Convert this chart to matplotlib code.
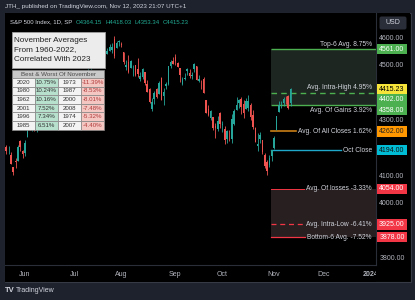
import numpy as np
import matplotlib
matplotlib.use('Agg')
import matplotlib.pyplot as plt
from matplotlib.patches import Rectangle, FancyBboxPatch
from matplotlib.transforms import blended_transform_factory, offset_copy

plt.rcParams['font.family'] = ['Liberation Sans', 'DejaVu Sans']

# S&P 500 daily bars, 19 May - 10 Nov 2023
dates = ['05-19', '05-22', '05-23', '05-24', '05-25', '05-26', '05-30', '05-31',
         '06-01', '06-02', '06-05', '06-06', '06-07', '06-08', '06-09', '06-12', '06-13', '06-14',
         '06-15', '06-16', '06-20', '06-21', '06-22', '06-23', '06-26', '06-27', '06-28', '06-29', '06-30',
         '07-03', '07-05', '07-06', '07-07', '07-10', '07-11', '07-12', '07-13', '07-14', '07-17',
         '07-18', '07-19', '07-20', '07-21', '07-24', '07-25', '07-26', '07-27', '07-28', '07-31',
         '08-01', '08-02', '08-03', '08-04', '08-07', '08-08', '08-09', '08-10', '08-11', '08-14',
         '08-15', '08-16', '08-17', '08-18', '08-21', '08-22', '08-23', '08-24', '08-25', '08-28',
         '08-29', '08-30', '08-31',
         '09-01', '09-05', '09-06', '09-07', '09-08', '09-11', '09-12', '09-13', '09-14', '09-15',
         '09-18', '09-19', '09-20', '09-21', '09-22', '09-25', '09-26', '09-27', '09-28', '09-29',
         '10-02', '10-03', '10-04', '10-05', '10-06', '10-09', '10-10', '10-11', '10-12', '10-13',
         '10-16', '10-17', '10-18', '10-19', '10-20', '10-23', '10-24', '10-25', '10-26', '10-27',
         '10-30', '10-31',
         '11-01', '11-02', '11-03', '11-06', '11-07', '11-08', '11-09', '11-10']

opens = [4204.15, 4190.78, 4176.80, 4132.96, 4155.71, 4156.16, 4226.71, 4190.74,
         4183.03, 4241.01, 4282.99, 4271.34, 4285.47, 4268.69, 4304.88, 4308.32, 4352.61, 4366.29,
         4365.33, 4440.95, 4396.11, 4380.01, 4355.40, 4354.17, 4344.84, 4337.36, 4367.48, 4374.94, 4422.44,
         4450.48, 4442.04, 4422.62, 4404.54, 4394.23, 4415.55, 4467.69, 4491.50, 4514.61, 4508.86,
         4521.78, 4563.87, 4554.38, 4550.16, 4543.39, 4555.19, 4558.96, 4598.26, 4565.75, 4584.82,
         4578.83, 4550.93, 4494.27, 4513.96, 4491.58, 4498.03, 4501.57, 4487.16, 4450.69, 4458.13,
         4478.87, 4433.79, 4416.32, 4344.88, 4380.28, 4415.33, 4396.44, 4455.16, 4389.38, 4426.03,
         4432.75, 4500.34, 4517.01,
         4530.60, 4510.06, 4490.35, 4434.55, 4451.30, 4480.98, 4473.27, 4462.65, 4487.78, 4497.98,
         4445.13, 4445.41, 4452.81, 4374.36, 4341.74, 4310.62, 4312.88, 4282.63, 4269.65, 4328.18,
         4284.52, 4269.75, 4233.83, 4259.31, 4234.79, 4289.02, 4339.75, 4366.59, 4380.94, 4360.49,
         4342.37, 4345.23, 4357.35, 4321.36, 4273.85, 4210.40, 4235.79, 4232.42, 4175.99, 4152.93,
         4139.39, 4171.33,
         4201.27, 4268.26, 4334.23, 4364.27, 4366.21, 4384.37, 4391.41, 4364.15]

highs = [4212.91, 4209.22, 4185.68, 4132.96, 4165.74, 4212.87, 4231.10, 4195.44,
         4232.43, 4290.67, 4299.28, 4288.33, 4299.19, 4298.01, 4322.62, 4340.13, 4375.37, 4391.82,
         4439.20, 4448.47, 4403.39, 4386.22, 4382.25, 4366.55, 4362.06, 4384.42, 4390.35, 4398.39, 4458.48,
         4456.46, 4454.06, 4422.62, 4440.39, 4412.60, 4443.64, 4488.34, 4517.38, 4527.76, 4532.85,
         4562.30, 4578.43, 4564.74, 4555.00, 4563.41, 4580.62, 4582.47, 4607.07, 4590.16, 4594.22,
         4584.62, 4550.93, 4519.49, 4540.34, 4519.84, 4503.31, 4502.44, 4527.37, 4476.23, 4490.33,
         4478.87, 4449.95, 4421.17, 4381.82, 4407.55, 4418.59, 4443.18, 4458.30, 4418.46, 4439.56,
         4500.14, 4521.65, 4532.26,
         4541.25, 4514.29, 4490.35, 4457.81, 4473.53, 4490.77, 4487.11, 4479.39, 4511.99, 4497.98,
         4466.36, 4449.85, 4461.03, 4375.70, 4357.40, 4338.51, 4313.01, 4292.07, 4317.27, 4333.15,
         4300.58, 4281.15, 4268.50, 4267.13, 4324.10, 4341.73, 4385.46, 4378.64, 4385.85, 4377.10,
         4383.33, 4393.57, 4364.20, 4339.54, 4276.56, 4255.84, 4259.38, 4232.42, 4183.60, 4156.70,
         4177.47, 4195.55,
         4245.64, 4319.72, 4373.62, 4372.21, 4386.26, 4391.20, 4393.40, 4418.03]

lows = [4180.20, 4179.68, 4142.54, 4103.98, 4129.73, 4156.16, 4192.18, 4166.15,
        4171.64, 4241.01, 4266.82, 4263.09, 4263.96, 4261.07, 4291.70, 4304.37, 4337.66, 4337.85,
        4362.60, 4407.44, 4386.72, 4360.14, 4351.82, 4341.34, 4328.08, 4335.00, 4360.22, 4371.97, 4422.44,
        4442.29, 4436.61, 4385.05, 4397.40, 4389.92, 4408.46, 4463.23, 4489.36, 4499.56, 4504.90,
        4514.59, 4557.48, 4527.56, 4535.79, 4541.29, 4552.42, 4547.58, 4528.56, 4564.01, 4573.14,
        4567.53, 4505.75, 4485.54, 4474.55, 4491.15, 4464.39, 4461.33, 4457.92, 4443.98, 4453.44,
        4432.19, 4403.55, 4364.83, 4335.31, 4360.30, 4382.77, 4396.44, 4375.55, 4356.29, 4414.98,
        4431.68, 4493.59, 4507.39,
        4501.35, 4496.01, 4442.38, 4430.46, 4448.38, 4467.89, 4456.83, 4453.52, 4478.69, 4447.21,
        4442.11, 4416.61, 4401.38, 4329.17, 4316.49, 4302.70, 4265.98, 4238.63, 4264.38, 4274.86,
        4260.21, 4216.45, 4220.48, 4225.91, 4219.55, 4283.79, 4339.64, 4345.34, 4325.43, 4311.97,
        4342.37, 4337.54, 4303.84, 4269.69, 4223.03, 4189.22, 4219.43, 4181.42, 4127.90, 4103.78,
        4132.94, 4153.12,
        4197.74, 4268.26, 4334.23, 4347.53, 4355.41, 4359.76, 4343.94, 4353.34]

closes = [4191.98, 4192.63, 4145.58, 4115.24, 4151.28, 4205.45, 4205.52, 4179.83,
          4221.02, 4282.37, 4273.79, 4283.85, 4267.52, 4293.93, 4298.86, 4338.93, 4369.01, 4372.59,
          4425.84, 4409.59, 4388.71, 4365.69, 4381.89, 4348.33, 4328.82, 4378.41, 4376.86, 4396.44, 4450.38,
          4455.59, 4446.82, 4411.59, 4398.95, 4409.53, 4439.26, 4472.16, 4510.04, 4505.42, 4522.79,
          4554.98, 4565.72, 4534.87, 4536.34, 4554.64, 4567.46, 4566.75, 4537.41, 4582.23, 4588.96,
          4576.73, 4513.39, 4501.89, 4478.03, 4518.44, 4499.38, 4467.71, 4468.83, 4464.05, 4489.72,
          4437.86, 4404.33, 4370.36, 4369.71, 4399.77, 4387.55, 4436.01, 4376.31, 4405.71, 4433.31,
          4497.63, 4514.87, 4507.66,
          4515.77, 4496.83, 4465.48, 4451.14, 4457.49, 4487.46, 4461.90, 4467.44, 4505.10, 4450.32,
          4453.53, 4443.95, 4402.20, 4330.00, 4320.06, 4337.44, 4273.53, 4274.51, 4299.70, 4288.05,
          4288.39, 4229.45, 4263.75, 4258.19, 4308.50, 4335.66, 4358.24, 4376.95, 4349.61, 4327.78,
          4373.63, 4373.20, 4314.60, 4278.00, 4224.16, 4217.04, 4247.68, 4186.77, 4137.23, 4117.37,
          4166.82, 4193.80,
          4237.86, 4317.78, 4358.34, 4365.98, 4378.38, 4382.78, 4347.35, 4415.23]

# November projection levels from the October close
oct_close = 4194.00
level_names = ['Top-6 Avg. 8.75%', 'Avg. Intra-High 4.95%', 'Avg. Of Gains 3.92%',
               'Avg. Of All Closes 1.62%', 'Oct Close', 'Avg. Of losses -3.33%',
               'Avg. Intra-Low -6.41%', 'Bottom-6 Avg. -7.52%']
level_values = [4561.00, 4402.00, 4358.00, 4262.00, 4194.00, 4054.00, 3925.00, 3878.00]
last_price = 4415.23

# table
title_lines = ['November Averages', 'From 1960-2022,', 'Correlated With 2023']
best_years = [2020, 1980, 1962, 2001, 1996, 1985]
best_pct = [10.75, 10.24, 10.16, 7.52, 7.34, 6.51]
worst_years = [1973, 1987, 2000, 2008, 1974, 2007]
worst_pct = [-11.39, -8.53, -8.01, -7.48, -5.32, -4.40]

month_labels = ['Jun', 'Jul', 'Aug', 'Sep', 'Oct', 'Nov']
month_starts = ['06-01', '07-03', '08-01', '09-01', '10-02', '11-01']
future_labels = ['Dec', '2024']
future_offsets = [14, 34]  # trading days after the last bar

UP, DN = '#26a69a', '#ef5350'
GRN, RED, ORG, CYN = '#4caf50', '#f23645', '#c97f16', '#1fa8c9'
TXT = '#d1d4dc'
AXT = '#b2b5be'

W, H = 415, 300
fig = plt.figure(figsize=(W / 100, H / 100), dpi=100)
fig.patch.set_facecolor('#1e222d')


def fb(x0, y0, x1, y1):
    return [x0 / W, 1 - y1 / H, (x1 - x0) / W, (y1 - y0) / H]


# black chart panel
fig.patches.append(Rectangle((4.5 / W, 1 - 282 / H), 406 / W, 269.5 / H,
                             transform=fig.transFigure, facecolor='black',
                             edgecolor='#363a45', lw=0.8, zorder=-5))

ax = fig.add_axes(fb(5, 13, 376, 265))
axp = fig.add_axes(fb(376, 13, 410, 265), sharey=ax)
axt = fig.add_axes(fb(5, 265, 376, 282), sharex=ax)
for a in (ax, axp, axt):
    a.set_facecolor('black')
    a.tick_params(left=False, bottom=False, labelleft=False, labelbottom=False)
    for s in a.spines.values():
        s.set_visible(False)
axp.spines['left'].set_visible(True)
axp.spines['left'].set_color('#2a2e39')
axt.spines['top'].set_visible(True)
axt.spines['top'].set_color('#2a2e39')

ax.set_xlim(-0.51, 157.36)
ax.set_ylim(3777.5, 4691.6)
axp.set_xlim(0, 1)
axt.set_ylim(0, 1)

# candles
o, h, l, c = map(np.array, (opens, highs, lows, closes))
x = np.arange(len(c))
col = np.where(c >= o, UP, DN)
ax.vlines(x, l, h, colors=col, lw=0.6, zorder=4)
ax.bar(x, np.maximum(np.abs(c - o), 1.0), bottom=np.minimum(o, c), width=0.68,
       color=col, lw=0, zorder=4)

# zones and levels
x0 = dates.index('10-31') - 0.3
x1 = ax.get_xlim()[1]
top6, ihigh, gains, allc, octc, loss, ilow, bot6 = level_values
ax.fill_between([x0, x1], gains, top6, color='#1d2620', lw=0, zorder=1)
ax.fill_between([x0, x1], bot6, loss, color='#271f20', lw=0, zorder=1)

renderer = fig.canvas.get_renderer()
yx = blended_transform_factory(ax.transAxes, ax.transData)
xr = 0.989
fs = 4.8

ax.hlines([top6, gains], x0, x1, color=GRN, lw=1.0, zorder=2)
ax.plot([x0, x1], [ihigh, ihigh], color=GRN, lw=1.0, ls=(0, (4, 3)), zorder=2)
ax.text(xr, top6, level_names[0], transform=offset_copy(yx, fig, y=3.0, units='dots'),
        ha='right', va='baseline', fontsize=fs, color=TXT, zorder=5)
ax.text(xr, ihigh, level_names[1], transform=offset_copy(yx, fig, y=4.0, units='dots'),
        ha='right', va='baseline', fontsize=fs, color=TXT, zorder=5)
ax.text(xr, gains, level_names[2], transform=offset_copy(yx, fig, y=-2.0, units='dots'),
        ha='right', va='top', fontsize=fs, color=TXT, zorder=5)

inline = [(allc, level_names[3], ORG, '-', 1.2), (octc, level_names[4], CYN, '-', 1.0),
          (loss, level_names[5], RED, '-', 0.7), (ilow, level_names[6], RED, (0, (4, 3)), 0.9),
          (bot6, level_names[7], RED, '-', 0.9)]
for val, name, color, ls, lw in inline:
    t = ax.text(xr, val, name, transform=yx, ha='right', va='center', fontsize=fs,
                color=TXT, zorder=5)
    bb = t.get_window_extent(renderer)
    xe = ax.transData.inverted().transform((bb.x0 - 2, 0))[0]
    ax.plot([x0, xe], [val, val], color=color, lw=lw, ls=ls, zorder=2)

# price scale
py = blended_transform_factory(axp.transAxes, axp.transData)
ppx = 252 / (ax.get_ylim()[1] - ax.get_ylim()[0])
tags = [(top6, 0, GRN, 'white'), (last_price, 0, '#f7e43b', 'black'),
        (ihigh, 6.7, GRN, 'white'), (gains, 5.3, GRN, 'white'),
        (allc, 0, '#ff9800', '#222222'), (octc, 0, '#00bcd4', '#111111'),
        (loss, 0, RED, 'white'), (ilow, 0, RED, 'white'), (bot6, 0, RED, 'white')]
tag_y = [val - shift / ppx for val, shift, _, _ in tags]
for p in range(3800, 4700, 100):
    # grid prices hidden under a coloured tag are not drawn
    if min(abs(p - yv) for yv in tag_y) * ppx < 8:
        continue
    axp.text(0.47, p, f'{p:.2f}', transform=py, ha='center', va='center',
             fontsize=5, color=AXT, zorder=1)

for (val, shift, fc, tc), yc in zip(tags, tag_y):
    axp.add_patch(Rectangle((0.03, yc - 5.2 / ppx), 0.88, 10.4 / ppx, transform=py,
                            facecolor=fc, edgecolor='none', zorder=3))
    axp.text(0.47, yc, f'{val:.2f}', transform=py, ha='center', va='center',
             fontsize=5, color=tc, zorder=4)

# time axis
tx = blended_transform_factory(axt.transData, axt.transAxes)
pos = [dates.index(d) for d in month_starts]
pos += [len(dates) - 1 + k for k in future_offsets]
for lab, p in zip(month_labels + future_labels, pos):
    axt.text(p, 0.45, lab, transform=tx, ha='center', va='center', fontsize=5,
             color=AXT, fontweight='bold' if lab.isdigit() else 'normal', clip_on=True)

# overlay in pixel units: header, footer, table
ov = fig.add_axes([0, 0, 1, 1], zorder=10)
ov.set_xlim(0, W)
ov.set_ylim(H, 0)
ov.axis('off')
ov.patch.set_alpha(0)

ov.text(5, 6.5, 'JTH_ published on TradingView.com, Nov 12, 2023 21:07 UTC+1',
        ha='left', va='center', fontsize=4.5, color=TXT)
t = ov.text(10, 22, 'S&P 500 Index, 1D, SP', ha='left', va='center', fontsize=4.3, color=TXT)
xp = ov.transData.inverted().transform((t.get_window_extent(renderer).x1, 0))[0] + 4
for k, v in zip('OHLC', [opens[-1], highs[-1], lows[-1], closes[-1]]):
    t = ov.text(xp, 22, f'{k}{v:.2f}', ha='left', va='center', fontsize=4.3, color='#22ab94')
    xp = ov.transData.inverted().transform((t.get_window_extent(renderer).x1, 0))[0] + 3

ov.add_patch(FancyBboxPatch((379.5, 16.5), 27, 13, boxstyle='round,pad=0,rounding_size=2',
                            facecolor='#2a2e39', edgecolor='none'))
ov.text(393, 23, 'USD', ha='center', va='center', fontsize=5, color=TXT)

ov.text(5, 291, 'TV', ha='left', va='center', fontsize=5.5, color=TXT, fontweight='bold')
ov.text(16, 291, 'TradingView', ha='left', va='center', fontsize=5, color=TXT)

ov.add_patch(Rectangle((11.7, 32.3), 93.3, 35.4, facecolor='#ececec', edgecolor='#9e9e9e', lw=0.6))
for i, line in enumerate(title_lines):
    ov.text(14, 40.3 + i * 9.6, line, ha='left', va='center', fontsize=5.9, color='#222222')

ov.add_patch(Rectangle((12.3, 70), 92, 7.8, facecolor='#c9c9c9', edgecolor='#8a8a8a', lw=0.5))
ov.text(58.3, 74, 'Best & Worst Of November', ha='center', va='center', fontsize=4.5,
        color='#4a4a4a')
edges = [12.3, 34.8, 57.8, 80.6, 104.3]
rh = 8.6
for i in range(len(best_years)):
    y0 = 78 + i * rh
    cells = [(str(best_years[i]), '#f3f3f3', '#333333'),
             (f'{best_pct[i]:.2f}%', '#b7e1cd', '#333333'),
             (str(worst_years[i]), '#f3f3f3', '#333333'),
             (f'{worst_pct[i]:.2f}%', '#f4c7c3', '#b03a3a')]
    for j, (txt, fc, tc) in enumerate(cells):
        ov.add_patch(Rectangle((edges[j], y0), edges[j + 1] - edges[j], rh,
                               facecolor=fc, edgecolor='#8a8a8a', lw=0.5))
        ov.text((edges[j] + edges[j + 1]) / 2, y0 + rh / 2, txt, ha='center', va='center',
                fontsize=4.4, color=tc)

fig.savefig('out.png', dpi=100, facecolor=fig.get_facecolor())
